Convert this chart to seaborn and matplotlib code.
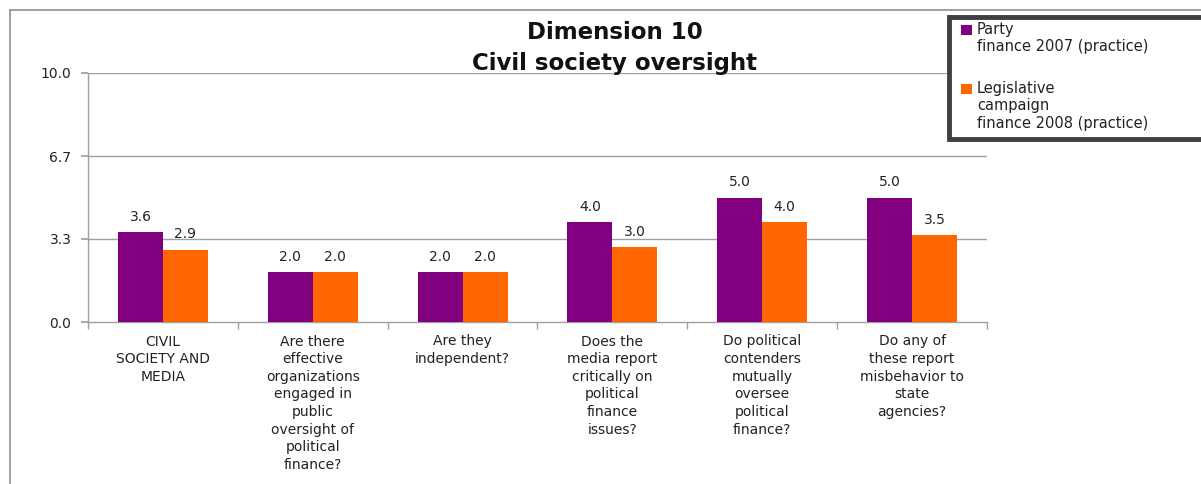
import matplotlib
matplotlib.use("Agg")
import matplotlib.pyplot as plt
import seaborn as sns
import pandas as pd
from matplotlib.lines import Line2D
from matplotlib.patches import Rectangle

categories = [
    "CIVIL\nSOCIETY AND\nMEDIA",
    "Are there\neffective\norganizations\nengaged in\npublic\noversight of\npolitical\nfinance?",
    "Are they\nindependent?",
    "Does the\nmedia report\ncritically on\npolitical\nfinance\nissues?",
    "Do political\ncontenders\nmutually\noversee\npolitical\nfinance?",
    "Do any of\nthese report\nmisbehavior to\nstate\nagencies?",
]
series_names = ["Party\nfinance 2007 (practice)", "Legislative\ncampaign\nfinance 2008 (practice)"]
party_2007 = [3.6, 2.0, 2.0, 4.0, 5.0, 5.0]
legis_2008 = [2.9, 2.0, 2.0, 3.0, 4.0, 3.5]
yticks = [0.0, 10/3, 20/3, 10.0]
ytick_labels = ["0.0", "3.3", "6.7", "10.0"]
colors = ["#800080", "#FF6600"]

df = pd.DataFrame({
    "cat": categories * 2,
    "series": [series_names[0]] * 6 + [series_names[1]] * 6,
    "value": party_2007 + legis_2008,
})

sns.set_theme(style="white")
plt.rcParams["font.family"] = ["DejaVu Sans"]

fig = plt.figure(figsize=(12.01, 4.84), dpi=100)
W, H = 1201, 484
ax = fig.add_axes([88 / W, 1 - 322 / H, (987 - 88) / W, (322 - 73) / H])

sns.barplot(data=df, x="cat", y="value", hue="series", palette=colors,
            width=0.6, ax=ax, saturation=1, legend=False, zorder=3, linewidth=0)

ax.set_ylim(0, 10)
ax.set_xlim(-0.5, 5.5)
ax.set_yticks(yticks)
ax.set_yticklabels(ytick_labels, fontsize=10, color="#222222")
ax.set_xlabel("")
ax.set_ylabel("")
for y in yticks[1:]:
    ax.axhline(y, color="#a0a0a0", lw=1, zorder=1)

for s in ["top", "right"]:
    ax.spines[s].set_visible(False)
for s in ["left", "bottom"]:
    ax.spines[s].set_color("#a0a0a0")
    ax.spines[s].set_linewidth(1)

ax.tick_params(axis="y", length=5, color="#a0a0a0", direction="out", left=True, pad=7)
ax.set_xticks([i - 0.5 for i in range(7)], minor=True)
ax.tick_params(axis="x", which="minor", length=5, color="#a0a0a0", direction="out", bottom=True)
ax.set_xticks(range(6))
ax.set_xticklabels(categories, fontsize=10, linespacing=1.33, color="#222222")
ax.tick_params(axis="x", which="major", length=0, pad=9)

for cont in ax.containers:
    ax.bar_label(cont, fmt="%.1f", padding=6, fontsize=10, color="#222222")

fig.text(615 / W, 1 - 33 / H, "Dimension 10", ha="center", va="center",
         fontsize=16.5, fontweight="bold", color="#111111")
fig.text(615 / W, 1 - 63 / H, "Civil society oversight", ha="center", va="center",
         fontsize=16.5, fontweight="bold", color="#111111")

# outer chart border
fig.add_artist(Line2D([10 / W, 1], [1 - 10 / H, 1 - 10 / H], color="#909090", lw=1.2))
fig.add_artist(Line2D([10 / W, 10 / W], [0, 1 - 10 / H], color="#909090", lw=1.2))

# legend box (extends past the right edge as in the reference)
fig.add_artist(Rectangle((949 / W, 1 - 139 / H), 300 / W, 122 / H, transform=fig.transFigure,
                         facecolor="white", edgecolor="#404040", lw=3.5, zorder=5))
leg_items = [(series_names[0], colors[0], 30), (series_names[1], colors[1], 89)]
for label, col, ytop in leg_items:
    fig.add_artist(Rectangle((961 / W, 1 - (ytop + 5) / H), 11 / W, 10 / H,
                             transform=fig.transFigure, facecolor=col, edgecolor="none", zorder=6))
    fig.text(977 / W, 1 - (ytop - 8) / H, label, ha="left", va="top", fontsize=10.5,
             linespacing=1.2, color="#222222", zorder=7)

fig.savefig("out.png", dpi=100)
